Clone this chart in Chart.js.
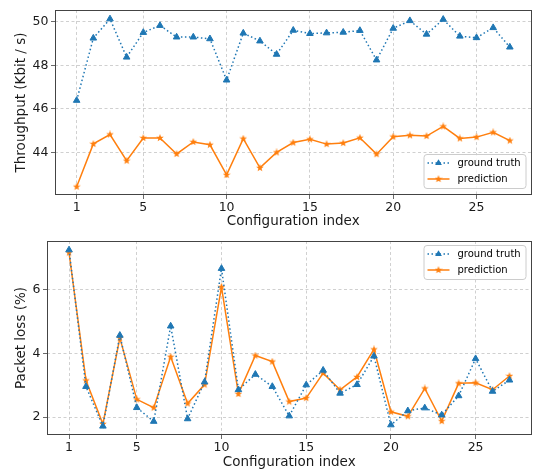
<!DOCTYPE html>
<html>
<head>
<meta charset="utf-8">
<script src="https://cdn.jsdelivr.net/npm/chart.js@4.4.1/dist/chart.umd.min.js"></script>
<style>
  html, body { margin: 0; padding: 0; background: #fff; }
  #wrap { position: relative; width: 537px; height: 474px; }
  canvas { position: absolute; left: 0; }
</style>
</head>
<body>
<div id="wrap">
  <canvas id="chart1" width="537" height="230" style="top:0px"></canvas>
  <canvas id="chart2" width="537" height="244" style="top:230px"></canvas>
</div>
<script>
const configIndex = [1, 2, 3, 4, 5, 6, 7, 8, 9, 10, 11, 12, 13, 14, 15, 16, 17, 18, 19, 20, 21, 22, 23, 24, 25, 26, 27];
const xTicks = [1, 5, 10, 15, 20, 25];

// throughput (Kbit / s)
const throughputTruth = [46.39, 49.24, 50.12, 48.37, 49.50, 49.82, 49.29, 49.29, 49.21, 47.32, 49.47, 49.11, 48.50,
  49.60, 49.45, 49.48, 49.51, 49.59, 48.24, 49.69, 50.04, 49.42, 50.10, 49.33, 49.26, 49.72, 48.83];
const throughputPred = [42.44, 44.40, 44.83, 43.63, 44.67, 44.67, 43.94, 44.49, 44.36, 42.98, 44.64, 43.30, 44.01,
  44.46, 44.61, 44.39, 44.44, 44.68, 43.93, 44.73, 44.79, 44.76, 45.20, 44.65, 44.71, 44.93, 44.55];
const throughputTicks = [44, 46, 48, 50];

// packet loss (%)
const lossTruth = [7.23, 2.96, 1.72, 4.56, 2.30, 1.87, 4.85, 1.95, 3.10, 6.65, 2.86, 3.34, 2.96,
  2.04, 3.01, 3.47, 2.75, 3.02, 3.91, 1.76, 2.20, 2.29, 2.07, 2.67, 3.83, 2.81, 3.16];
const lossPred = [7.15, 3.15, 1.79, 4.48, 2.56, 2.30, 3.89, 2.43, 3.02, 6.07, 2.73, 3.93, 3.74,
  2.49, 2.60, 3.38, 2.86, 3.26, 4.12, 2.17, 2.03, 2.90, 1.88, 3.06, 3.08, 2.86, 3.29];
const lossTicks = [2, 4, 6];

const BLUE = '#1f77b4';
const ORANGE = '#ff7f0e';
const FONT = 'DejaVu Sans';

function starCanvas(color, size) {
  const c = document.createElement('canvas');
  c.width = size; c.height = size;
  const g = c.getContext('2d');
  const cx = size / 2, cy = size / 2, ro = size / 2, ri = ro * 0.42;
  g.beginPath();
  for (let k = 0; k < 10; k++) {
    const r = k % 2 ? ri : ro;
    const a = -Math.PI / 2 + k * Math.PI / 5;
    g.lineTo(cx + r * Math.cos(a), cy + r * Math.sin(a));
  }
  g.closePath();
  g.fillStyle = color;
  g.fill();
  return c;
}
const star = starCanvas(ORANGE, 8);

// frame round the plot area + matplotlib-like legend
const framePlugin = {
  id: 'frame',
  afterDatasetsDraw(chart, args, opts) {
    const { ctx, chartArea: a } = chart;
    ctx.save();
    ctx.strokeStyle = '#444';
    ctx.lineWidth = 1;
    ctx.strokeRect(Math.round(a.left) + 0.5, Math.round(a.top) + 0.5,
      Math.round(a.right - a.left) - 1, Math.round(a.bottom - a.top) - 1);

    // legend box
    const w = 102, h = 34;
    const x = a.right - opts.gapX - w;
    const y = opts.corner === 'lower' ? a.bottom - opts.gapY - h : a.top + opts.gapY;
    ctx.beginPath();
    ctx.roundRect(x + 0.5, y + 0.5, w, h, 3);
    ctx.fillStyle = 'rgba(255,255,255,0.8)';
    ctx.fill();
    ctx.strokeStyle = '#cccccc';
    ctx.stroke();

    const rows = [
      { label: 'ground truth', color: BLUE, dash: [1.5, 2.5], marker: 'triangle' },
      { label: 'prediction', color: ORANGE, dash: [], marker: 'star' }
    ];
    ctx.font = '10px "' + FONT + '"';
    ctx.textBaseline = 'middle';
    rows.forEach((r, i) => {
      const ry = y + 9 + i * 16;
      ctx.beginPath();
      ctx.setLineDash(r.dash);
      ctx.strokeStyle = r.color;
      ctx.lineWidth = 1.5;
      ctx.moveTo(x + 4, ry);
      ctx.lineTo(x + 26, ry);
      ctx.stroke();
      ctx.setLineDash([]);
      if (r.marker === 'star') {
        ctx.drawImage(star, x + 15 - 4, ry - 4);
      } else {
        ctx.fillStyle = r.color;
        ctx.beginPath();
        ctx.moveTo(x + 15, ry - 3.8);
        ctx.lineTo(x + 15 + 3.4, ry + 2);
        ctx.lineTo(x + 15 - 3.4, ry + 2);
        ctx.closePath();
        ctx.fill();
      }
      ctx.fillStyle = '#000';
      ctx.fillText(r.label, x + 34, ry);
    });
    ctx.restore();
  }
};

function makeChart(id, truth, pred, cfg) {
  const toPoints = vals => configIndex.map((x, i) => ({ x: x, y: vals[i] }));
  const grid = {
    color: '#c4c4c4', lineWidth: 0.8,
    tickColor: '#444', tickLength: 4, tickBorderDash: []
  };
  const border = { display: false, dash: [3, 2.5] };
  return new Chart(document.getElementById(id), {
    type: 'line',
    data: {
      datasets: [
        {
          label: 'ground truth',
          data: toPoints(truth),
          borderColor: BLUE,
          backgroundColor: BLUE,
          borderWidth: 1.5,
          borderDash: [1.5, 2.5],
          pointStyle: 'triangle',
          pointRadius: 3.8,
          pointBorderWidth: 1,
          pointBackgroundColor: BLUE,
          pointBorderColor: BLUE,
          tension: 0,
          fill: false
        },
        {
          label: 'prediction',
          data: toPoints(pred),
          borderColor: ORANGE,
          backgroundColor: ORANGE,
          borderWidth: 1.5,
          pointStyle: star,
          tension: 0,
          fill: false
        }
      ]
    },
    options: {
      responsive: false,
      animation: false,
      events: [],
      layout: { padding: { top: cfg.padTop, right: 2, left: 0, bottom: 0 } },
      plugins: {
        legend: { display: false },
        tooltip: { enabled: false },
        frame: cfg.legend
      },
      scales: {
        x: {
          type: 'linear',
          min: -0.3,
          max: 28.3,
          afterBuildTicks: s => { s.ticks = xTicks.map(v => ({ value: v })); },
          afterFit: s => { s.height = cfg.xHeight; },
          grid: grid,
          border: border,
          ticks: { color: '#1a1a1a', padding: 1, maxRotation: 0, font: { family: FONT, size: 12.5 } },
          title: {
            display: true, text: 'Configuration index', color: '#1a1a1a',
            font: { family: FONT, size: 13.5, lineHeight: 1.2 },
            padding: { top: 0, bottom: cfg.xTitlePad }
          }
        },
        y: {
          type: 'linear',
          min: cfg.yMin,
          max: cfg.yMax,
          afterBuildTicks: s => { s.ticks = cfg.yTicks.map(v => ({ value: v })); },
          afterFit: s => { s.width = cfg.yWidth; },
          grid: grid,
          border: border,
          ticks: { color: '#1a1a1a', padding: 2.5, font: { family: FONT, size: 12.5 } },
          title: {
            display: true, text: cfg.yTitle, color: '#1a1a1a',
            font: { family: FONT, size: 13.5, lineHeight: 1.2 },
            padding: { top: 13, bottom: 0 }
          }
        }
      }
    },
    plugins: [framePlugin]
  });
}

makeChart('chart1', throughputTruth, throughputPred, {
  padTop: 4, xHeight: 35, yWidth: 55, xTitlePad: 0.5,
  yMin: 42.06, yMax: 50.53, yTicks: throughputTicks,
  yTitle: 'Throughput (Kbit / s)',
  legend: { corner: 'lower', gapX: 6, gapY: 7 }
});

makeChart('chart2', lossTruth, lossPred, {
  padTop: 11, xHeight: 39, yWidth: 47, xTitlePad: 3.5,
  yMin: 1.445, yMax: 7.51, yTicks: lossTicks,
  yTitle: 'Packet loss (%)',
  legend: { corner: 'upper', gapX: 6, gapY: 4 }
});
</script>
</body>
</html>
